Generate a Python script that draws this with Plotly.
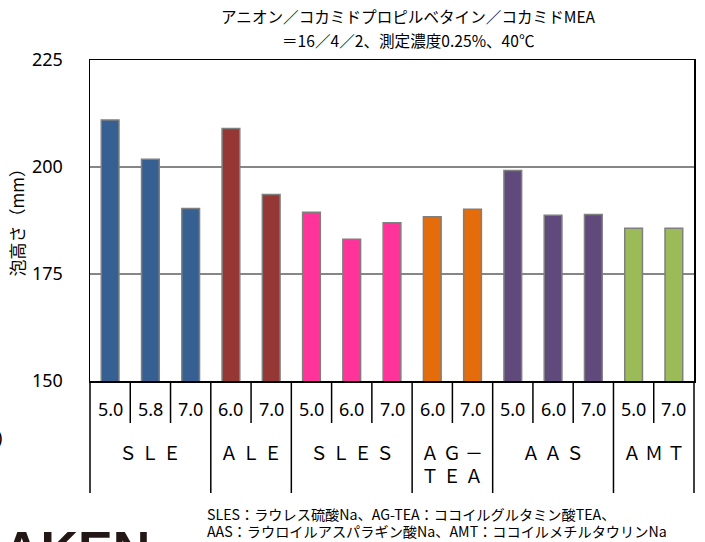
import plotly.graph_objects as go

# ---------------- data ----------------
groups = ["SLE", "ALE", "SLES", "AG-TEA", "AAS", "AMT"]
group_labels = ["Ｓ Ｌ Ｅ", "Ａ Ｌ Ｅ", "Ｓ Ｌ Ｅ Ｓ", "Ａ Ｇ －<br>Ｔ Ｅ Ａ", "Ａ Ａ Ｓ", "Ａ Ｍ Ｔ"]
group_colors = ["#376092", "#953735", "#FF3399", "#E46C0A", "#604A7B", "#9BBB59"]

ph_sle = ["5.0", "5.8", "7.0"]
ph_ale = ["6.0", "7.0"]
ph_sles = ["5.0", "6.0", "7.0"]
ph_agtea = ["6.0", "7.0"]
ph_aas = ["5.0", "6.0", "7.0"]
ph_amt = ["5.0", "7.0"]

foam_sle = [211.0, 201.8, 190.3]
foam_ale = [209.0, 193.6]
foam_sles = [189.4, 183.1, 187.0]
foam_agtea = [188.4, 190.1]
foam_aas = [199.2, 188.7, 188.9]
foam_amt = [185.7, 185.7]

ph_lists = [ph_sle, ph_ale, ph_sles, ph_agtea, ph_aas, ph_amt]
foam_lists = [foam_sle, foam_ale, foam_sles, foam_agtea, foam_aas, foam_amt]

y_ticks = [150, 175, 200, 225]

title_line1 = "アニオン／コカミドプロピルベタイン／コカミドMEA"
title_line2 = "＝16／4／2、測定濃度0.25%、40℃"
y_title = "泡高さ（mm）"
note_line1 = "SLES：ラウレス硫酸Na、AG-TEA：ココイルグルタミン酸TEA、"
note_line2 = "AAS：ラウロイルアスパラギン酸Na、AMT：ココイルメチルタウリンNa"

# ---------------- build ----------------
x_idx, y_vals, colors, ph_flat = [], [], [], []
group_bounds = []
i = 0
for g, phs, vals, col in zip(groups, ph_lists, foam_lists, group_colors):
    start = i
    for p, v in zip(phs, vals):
        x_idx.append(i)
        y_vals.append(v)
        colors.append(col)
        ph_flat.append(p)
        i += 1
    group_bounds.append((start, i))
n = i

JP = "Noto Sans CJK JP"
NUM = "Noto Sans"

fig = go.Figure(go.Bar(
    x=x_idx, y=y_vals, width=0.44,
    marker=dict(color=colors, line=dict(color="#7F7F7F", width=1.5)),
    hoverinfo="skip",
))

shapes = []
annotations = []
# pH labels
for k in range(n):
    annotations.append(dict(x=x_idx[k], y=0, xref="x", yref="paper", text=ph_flat[k],
                            showarrow=False, yanchor="middle", yshift=-28,
                            font=dict(family=NUM, size=18, color="black")))
group_starts = {s for s, e in group_bounds}
# inner separators
for k in range(1, n):
    if k in group_starts:
        continue
    shapes.append(dict(type="line", xref="x", yref="paper", ysizemode="pixel", yanchor=0,
                       x0=k - 0.5, x1=k - 0.5, y0=0, y1=-42,
                       line=dict(color="black", width=1.5)))
# group separators
for s, e in group_bounds[1:]:
    shapes.append(dict(type="line", xref="x", yref="paper", ysizemode="pixel", yanchor=0,
                       x0=s - 0.5, x1=s - 0.5, y0=0, y1=-112,
                       line=dict(color="black", width=1.5)))
for xd in (0, 1):
    shapes.append(dict(type="line", xref="x domain", yref="paper", ysizemode="pixel", yanchor=0,
                       x0=xd, x1=xd, y0=0, y1=-112,
                       line=dict(color="black", width=1.5)))
# group labels
for (s, e), lab in zip(group_bounds, group_labels):
    annotations.append(dict(x=(s + e - 1) / 2, y=0, xref="x", yref="paper", text=lab,
                            showarrow=False, yanchor="top", yshift=-56,
                            font=dict(family=JP, size=18, color="black")))

title_x = (410 - 90) / 606
annotations.append(dict(x=title_x, y=1, xref="paper", yref="paper", text=title_line1,
                        showarrow=False, xanchor="center", yanchor="middle", yshift=44,
                        font=dict(family=JP, size=15.6, color="black")))
annotations.append(dict(x=title_x, y=1, xref="paper", yref="paper", text=title_line2,
                        showarrow=False, xanchor="center", yanchor="middle", yshift=20,
                        font=dict(family=JP, size=15.6, color="black")))
# y title
annotations.append(dict(x=0, y=0.5, xref="paper", yref="paper", text=y_title, textangle=-90,
                        showarrow=False, xanchor="center", yanchor="middle", xshift=-74, yshift=2,
                        font=dict(family=JP, size=17, color="black")))
# footnotes
annotations.append(dict(x=0, y=0, xref="paper", yref="paper", text=note_line1,
                        showarrow=False, xanchor="left", yanchor="middle", xshift=115, yshift=-133,
                        font=dict(family=JP, size=14.2, color="black")))
annotations.append(dict(x=0, y=0, xref="paper", yref="paper", text=note_line2,
                        showarrow=False, xanchor="left", yanchor="middle", xshift=115, yshift=-150,
                        font=dict(family=JP, size=14.2, color="black")))
# logo fragment
annotations.append(dict(x=0, y=0, xref="paper", yref="paper", text="<b>AKEN</b>",
                        showarrow=False, xanchor="right", yanchor="top", xshift=62, yshift=-138,
                        font=dict(family="Liberation Sans", size=52, color="#231815")))
annotations.append(dict(x=0, y=0, xref="paper", yref="paper", text=")",
                        showarrow=False, xanchor="center", yanchor="middle", xshift=-91, yshift=-56,
                        font=dict(family=NUM, size=18, color="black")))

fig.update_layout(
    width=705, height=542,
    margin=dict(l=90, r=9, t=60, b=161),
    paper_bgcolor="white", plot_bgcolor="white",
    showlegend=False,
    shapes=shapes, annotations=annotations,
    xaxis=dict(range=[-0.5, n - 0.5], showticklabels=False, showgrid=False, zeroline=False,
               showline=True, linecolor="black", linewidth=1.5, mirror=True, ticks=""),
    yaxis=dict(range=[y_ticks[0], y_ticks[-1]], tickvals=y_ticks, showgrid=True,
               gridcolor="#868686", gridwidth=1.3, zeroline=False,
               showline=True, linecolor="black", linewidth=1.5, mirror=True, ticks="",
               ticklabelstandoff=22, tickfont=dict(family=NUM, size=18, color="black")),
)

fig.write_html("out.html", config={"displayModeBar": False, "staticPlot": True},
               post_script="document.body.style.margin='0';document.body.style.overflow='hidden';")
